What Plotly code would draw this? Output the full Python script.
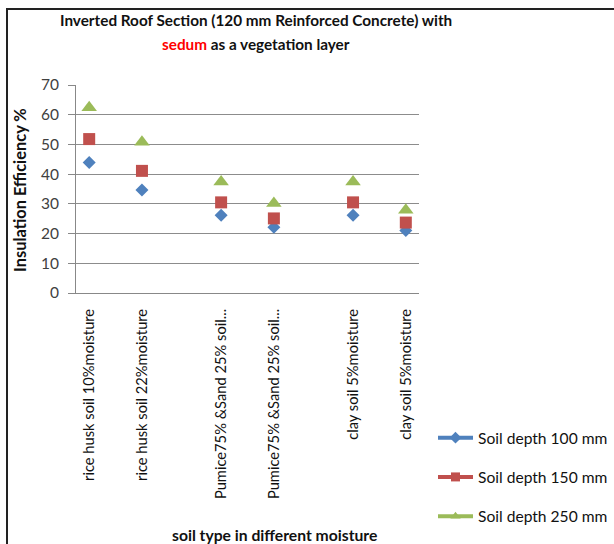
import plotly.graph_objects as go

categories = [
    "rice husk soil 10%moisture",
    "rice husk soil 22%moisture",
    "Pumice75% &Sand 25% soil...",
    "Pumice75% &Sand 25% soil...",
    "clay soil 5%moisture",
    "clay soil 5%moisture",
]
# soil group of each category (pairs are separated by a gap on the axis)
groups = [0, 0, 1, 1, 2, 2]
depth_100 = [43.9, 34.7, 26.2, 22.1, 26.2, 21.0]
depth_150 = [51.8, 41.1, 30.5, 25.1, 30.5, 23.7]
depth_250 = [62.4, 50.8, 37.4, 30.2, 37.4, 27.9]
series_names = ["Soil depth 100 mm", "Soil depth 150 mm", "Soil depth 250 mm"]
y_ticks = [0, 10, 20, 30, 40, 50, 60, 70]

# x positions: category index plus half a slot between groups
xpos = [i + 0.5 * g for i, g in enumerate(groups)]

colors = ["#4F81BD", "#C0504D", "#9BBB59"]
symbols = ["diamond", "square", "triangle-up"]
sizes = [10, 12, 13.5]
values = [depth_100, depth_150, depth_250]

FONT = "Lato"
W, H = 614, 544
L, R, T, B = 76, 419, 85, 293   # plot area in pixels
PW, PH = R - L, B - T


def px(x):
    return (x - L) / PW


def py(y):
    return (B - y) / PH


fig = go.Figure()
for name, vals, c, s, sz in zip(series_names, values, colors, symbols, sizes):
    fig.add_trace(go.Scatter(x=xpos, y=vals, mode="markers", name=name,
                             marker=dict(color=c, symbol=s, size=sz, line=dict(width=0)),
                             showlegend=False))
for k, (name, c, s) in enumerate(zip(series_names, colors, symbols)):
    fig.add_trace(go.Scatter(x=[None], y=[None], mode="lines+markers", name=name,
                             legendgroup=f"g{k}",
                             line=dict(color=c, width=4),
                             marker=dict(color=c, symbol=s, size=9)))

fig.update_layout(
    width=W, height=H,
    margin=dict(l=L, r=W - R, t=T, b=H - B, autoexpand=False),
    paper_bgcolor="white", plot_bgcolor="white",
    font=dict(family=FONT, color="#404040", size=13),
    xaxis=dict(
        range=[-0.25, 6.25], tickvals=xpos, ticktext=categories, tickangle=-90,
        showgrid=False, zeroline=False, showline=True, linecolor="#888888",
        ticks="", ticklabelstandoff=9,
        tickfont=dict(size=14.7, color="#111111", family=FONT),
        automargin=False,
    ),
    yaxis=dict(
        range=[0, 70], tickvals=y_ticks, showgrid=True, gridcolor="#8C8C8C",
        gridwidth=1, zeroline=False, showline=True, linecolor="#888888",
        ticks="outside", ticklen=7, tickcolor="#888888", ticklabelstandoff=6,
        tickfont=dict(size=15.5, color="#404040", family=FONT),
        automargin=False,
    ),
    legend=dict(x=px(433), y=py(421), xanchor="left", yanchor="top",
                font=dict(size=15.6, color="#111111", family=FONT),
                tracegroupgap=16, itemwidth=35, bgcolor="rgba(0,0,0,0)"),
)

title_font = dict(family=FONT, size=15.3, color="#111111")
fig.add_annotation(text="<b>Inverted Roof Section (120 mm Reinforced Concrete) with</b>",
                   xref="paper", yref="paper", x=px(256), y=py(20),
                   xanchor="center", yanchor="middle", showarrow=False, font=title_font)
fig.add_annotation(text="<b><span style='color:#FF0000'>sedum</span> as a vegetation layer</b>",
                   xref="paper", yref="paper", x=px(256), y=py(44),
                   xanchor="center", yanchor="middle", showarrow=False, font=title_font)
fig.add_annotation(text="<b>Insulation Efficiency %</b>", textangle=-90,
                   xref="paper", yref="paper", x=px(19), y=py(190),
                   xanchor="center", yanchor="middle", showarrow=False,
                   font=dict(family=FONT, size=16.4, color="#111111"))
fig.add_annotation(text="<b>soil type in different moisture</b>",
                   xref="paper", yref="paper", x=px(274), y=py(535),
                   xanchor="center", yanchor="middle", showarrow=False,
                   font=dict(family=FONT, size=15.7, color="#111111"))

fig.add_shape(type="rect", xref="paper", yref="paper",
              x0=px(7), x1=px(W + 40), y0=py(H + 40), y1=py(9),
              line=dict(color="#222222", width=2), layer="below")
fig.write_html(
    "out.html",
    config={"displayModeBar": False},
    post_script="document.documentElement.style.margin='0';"
                "document.body.style.margin='0';"
                "document.body.style.overflow='hidden';",
)
